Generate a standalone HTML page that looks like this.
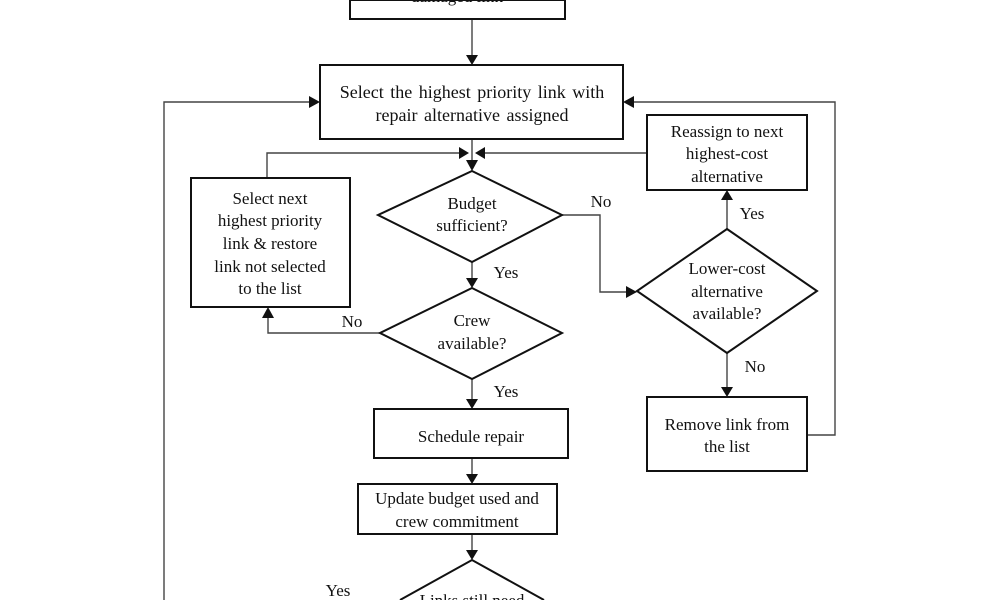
<!DOCTYPE html>
<html><head><meta charset="utf-8"><style>
html,body{margin:0;padding:0;background:#fff;overflow:hidden;width:1000px;height:600px;}
svg{display:block;}
text{font-family:"Liberation Serif",serif;font-size:17px;fill:#111;text-anchor:middle;}
.big{font-size:18px;word-spacing:2px;}
.b{fill:#fff;stroke:#111;stroke-width:2;}
.c{fill:none;stroke:#444;stroke-width:1.4;}
.a{fill:#111;}
</style></head><body>
<svg width="1000" height="600" viewBox="0 0 1000 600" xmlns="http://www.w3.org/2000/svg">
<defs><clipPath id="cp"><rect x="0" y="0" width="1000" height="600"/></clipPath></defs>
<g clip-path="url(#cp)">
<path class="c" d="M472 19V58"/><polygon class="a" points="466,55 478,55 472,65"/>
<path class="c" d="M472 139V163"/><polygon class="a" points="466,160 478,160 472,171"/>
<path class="c" d="M267 178V153H462"/><polygon class="a" points="459,147 459,159 469,153"/>
<path class="c" d="M647 153H482"/><polygon class="a" points="485,147 485,159 475,153"/>
<path class="c" d="M164 600V102H312"/><polygon class="a" points="309,96 309,108 320,102"/>
<path class="c" d="M807 435H835V102H631"/><polygon class="a" points="634,96 634,108 623,102"/>
<path class="c" d="M562 215H600V292H629"/><polygon class="a" points="626,286 626,298 637,292"/>
<path class="c" d="M727 230V198"/><polygon class="a" points="721,200 733,200 727,190"/>
<path class="c" d="M727 353V389"/><polygon class="a" points="721,387 733,387 727,397"/>
<path class="c" d="M472 262V280"/><polygon class="a" points="466,278 478,278 472,288"/>
<path class="c" d="M380 333H268V316"/><polygon class="a" points="262,318 274,318 268,307"/>
<path class="c" d="M472 379V401"/><polygon class="a" points="466,399 478,399 472,409"/>
<path class="c" d="M472 458V476"/><polygon class="a" points="466,474 478,474 472,484"/>
<path class="c" d="M472 534V552"/><polygon class="a" points="466,550 478,550 472,560"/>
<rect class="b" x="350" y="0" width="215" height="19"/>
<text x="457" y="2">damaged link</text>
<rect class="b" x="320" y="65" width="303" height="74"/>
<text class="big" x="472" y="98">Select the highest priority link with</text>
<text class="big" x="472" y="121">repair alternative assigned</text>
<rect class="b" x="191" y="178" width="159" height="129"/>
<text x="270" y="204">Select next</text>
<text x="270" y="226">highest priority</text>
<text x="270" y="249">link &amp; restore</text>
<text x="270" y="272">link not selected</text>
<text x="270" y="294">to the list</text>
<rect class="b" x="647" y="115" width="160" height="75"/>
<text x="727" y="137">Reassign to next</text>
<text x="727" y="159">highest-cost</text>
<text x="727" y="182">alternative</text>
<rect class="b" x="647" y="397" width="160" height="74"/>
<text x="727" y="430">Remove link from</text>
<text x="727" y="452">the list</text>
<rect class="b" x="374" y="409" width="194" height="49"/>
<text x="471" y="442">Schedule repair</text>
<rect class="b" x="358" y="484" width="199" height="50"/>
<text x="457" y="504">Update budget used and</text>
<text x="457" y="527">crew commitment</text>
<polygon class="b" points="472,171 562,215 472,262 378,215"/>
<text x="472" y="209">Budget</text>
<text x="472" y="231">sufficient?</text>
<polygon class="b" points="472,288 562,333 472,379 380,333"/>
<text x="472" y="326">Crew</text>
<text x="472" y="349">available?</text>
<polygon class="b" points="727,229 817,291 727,353 637,291"/>
<text x="727" y="274">Lower-cost</text>
<text x="727" y="297">alternative</text>
<text x="727" y="319">available?</text>
<path class="b" d="M400 600L472 560L544 600"/>
<text x="472" y="606">Links still need</text>
<text x="601" y="207">No</text>
<text x="752" y="219">Yes</text>
<text x="755" y="372">No</text>
<text x="506" y="278">Yes</text>
<text x="352" y="327">No</text>
<text x="506" y="397">Yes</text>
<text x="338" y="596">Yes</text>
</g>
</svg>
</body></html>
